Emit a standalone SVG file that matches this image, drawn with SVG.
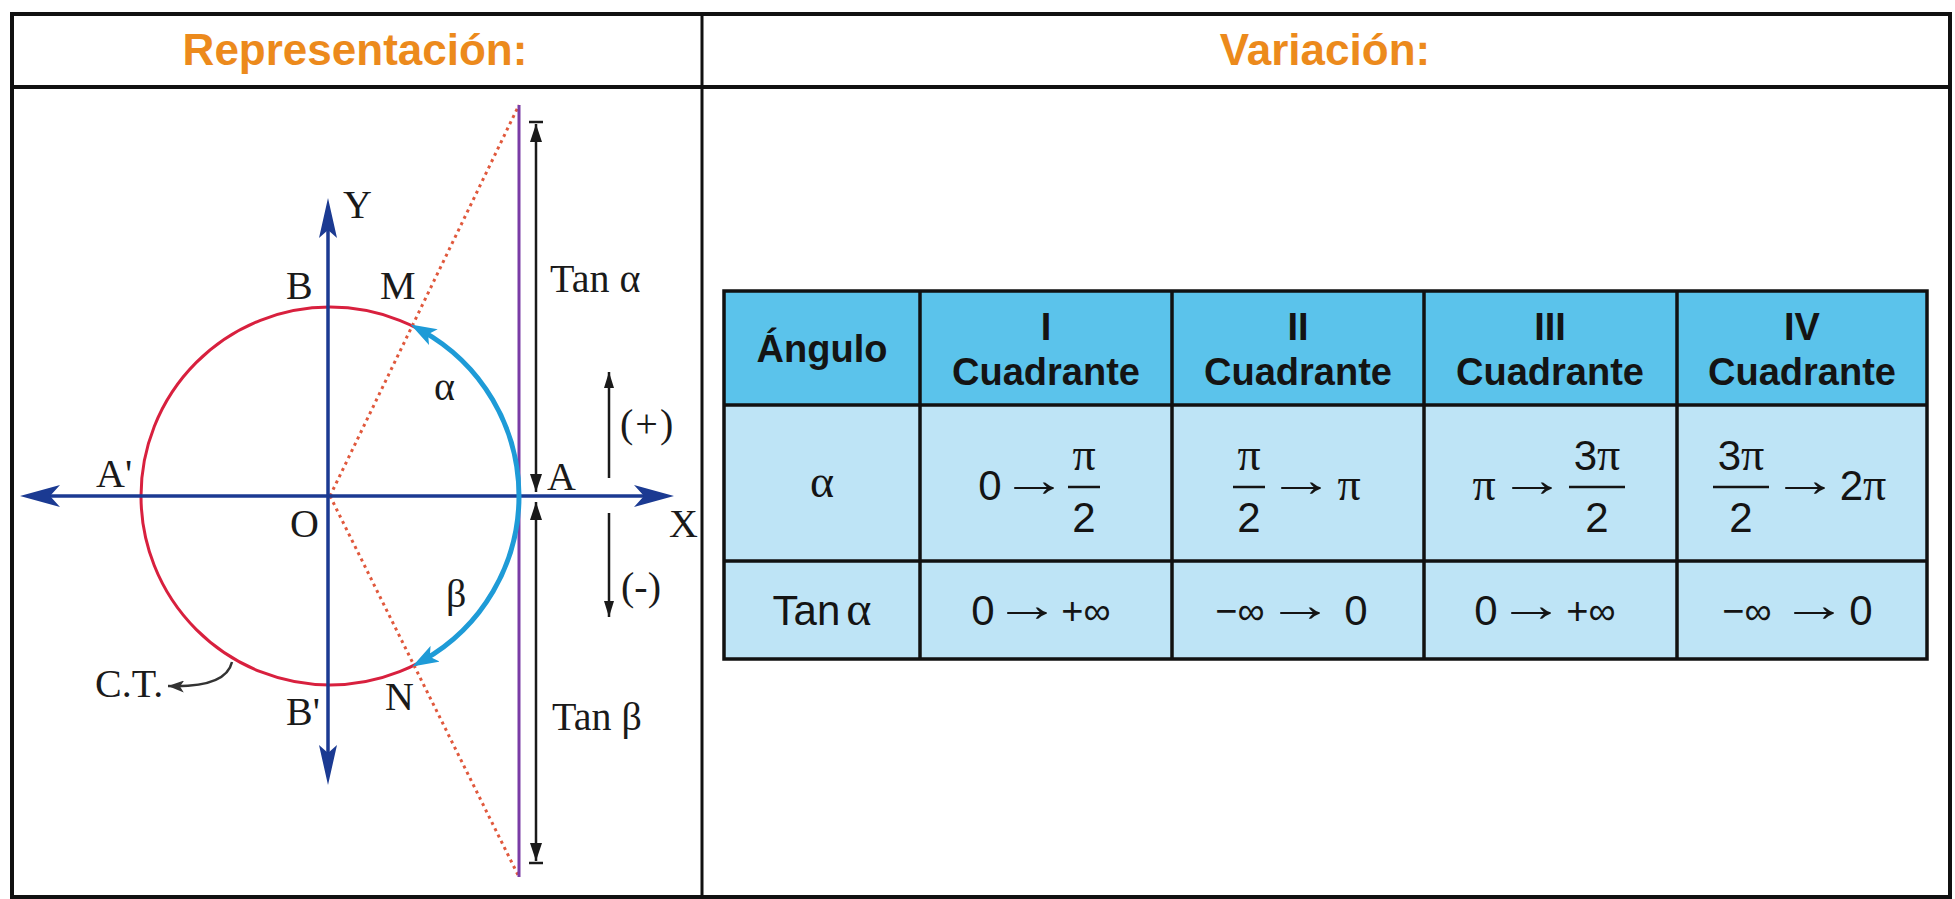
<svg xmlns="http://www.w3.org/2000/svg" width="1955" height="899" viewBox="0 0 1955 899">
<style>
.title{font-family:"Liberation Sans",Arial,sans-serif;font-weight:bold;font-size:44px;fill:#EC8A1C;text-anchor:middle}
.lbl{font-family:"Liberation Serif","Times New Roman",serif;font-size:40px;fill:#1a1a1a}
.hd{font-family:"Liberation Sans",Arial,sans-serif;font-weight:bold;font-size:38px;fill:#141414;text-anchor:middle}
.num{font-family:"Liberation Sans",Arial,sans-serif;font-size:42px;fill:#141414;text-anchor:middle}
.sym{font-family:"Liberation Serif","Times New Roman",serif;font-size:46px;fill:#141414;text-anchor:middle}
.arr{font-family:"Liberation Serif","DejaVu Serif",serif;font-size:48px;fill:#141414;text-anchor:middle}
.inf{font-family:"Liberation Sans","DejaVu Sans",sans-serif;font-size:38px;fill:#141414;text-anchor:middle}
.frac{stroke:#141414;stroke-width:2.5}
.grid{stroke:#111;stroke-width:3.5;fill:none}
.axis{stroke:#1b3a92;stroke-width:3.5;fill:none}
.axhead{fill:#1b3a92}
.blk{stroke:#1a1a1a;stroke-width:2.5;fill:none}
</style>
<defs>
<marker id="cyanHead" viewBox="0 0 26 18" refX="14" refY="9" markerWidth="26" markerHeight="18" orient="auto" markerUnits="userSpaceOnUse">
<path d="M0,0 L26,9 L0,18 L6,9 z" fill="#1e9bd7"/>
</marker>
<marker id="blkHead" viewBox="0 0 18 12" refX="18" refY="6" markerWidth="18" markerHeight="12" orient="auto-start-reverse" markerUnits="userSpaceOnUse">
<path d="M0,0 L18,6 L0,12 z" fill="#1a1a1a"/>
</marker>
<marker id="smallHead" viewBox="0 0 16 10" refX="16" refY="5" markerWidth="16" markerHeight="10" orient="auto" markerUnits="userSpaceOnUse">
<path d="M0,0 L16,5 L0,10 z" fill="#1a1a1a"/>
</marker>
<marker id="grayHead" viewBox="0 0 16 12" refX="16" refY="6" markerWidth="16" markerHeight="12" orient="auto" markerUnits="userSpaceOnUse">
<path d="M0,0 L16,6 L0,12 L4,6 z" fill="#333"/>
</marker>
</defs>

<rect x="0" y="0" width="1955" height="899" fill="#ffffff"/>

<g id="frame">
<rect x="12" y="14" width="1938" height="883" fill="none" stroke="#111" stroke-width="4"/>
<line x1="12" y1="87" x2="1950" y2="87" stroke="#111" stroke-width="4"/>
<line x1="702" y1="14" x2="702" y2="897" stroke="#111" stroke-width="3"/>
</g>

<g id="titles">
<text class="title" x="355" y="65">Representación:</text>
<text class="title" x="1325" y="65">Variación:</text>
</g>

<g id="diagram">
<circle id="circle-ct" cx="330" cy="496" r="189" fill="none" stroke="#d8203e" stroke-width="3"/>
<g id="dotted-lines" stroke="#e0583c" stroke-width="3" stroke-dasharray="3 4" fill="none">
<line x1="330" y1="496" x2="519" y2="105"/>
<line x1="330" y1="496" x2="519" y2="877"/>
</g>
<line id="tangent-line" x1="519" y1="105" x2="519" y2="877" stroke="#7a3ca6" stroke-width="3"/>
<g id="axes">
<line class="axis" x1="40" y1="496" x2="655" y2="496"/>
<polygon class="axhead" points="674,496 634,485 644,496 634,507"/>
<polygon class="axhead" points="20,496 60,485 50,496 60,507"/>
<line class="axis" x1="328" y1="220" x2="328" y2="765"/>
<polygon class="axhead" points="328,198 319,238 328,230 337,238"/>
<polygon class="axhead" points="328,785 319,745 328,753 337,745"/>
</g>
<g id="arcs" fill="none" stroke="#1e9bd7" stroke-width="5">
<path d="M519,496 A189,189 0 0 0 421.1,330.4" marker-end="url(#cyanHead)"/>
<path d="M519,496 A189,189 0 0 1 422.8,660.6" marker-end="url(#cyanHead)"/>
</g>
<g id="tan-arrows">
<line class="blk" x1="536" y1="124" x2="536" y2="492" marker-start="url(#blkHead)" marker-end="url(#blkHead)"/>
<line class="blk" x1="529" y1="122" x2="543" y2="122" stroke-width="3"/>
<line class="blk" x1="536" y1="502" x2="536" y2="861" marker-start="url(#blkHead)" marker-end="url(#blkHead)"/>
<line class="blk" x1="529" y1="863" x2="543" y2="863" stroke-width="3"/>
<line class="blk" x1="609" y1="478" x2="609" y2="372" stroke-width="2" marker-end="url(#smallHead)"/>
<line class="blk" x1="609" y1="513" x2="609" y2="617" stroke-width="2" marker-end="url(#smallHead)"/>
<path d="M232,662 Q226,688 168,686" fill="none" stroke="#333" stroke-width="2.5" marker-end="url(#grayHead)"/>
</g>
<g id="diagram-labels">
<text class="lbl" x="343" y="218">Y</text>
<text class="lbl" x="286" y="299">B</text>
<text class="lbl" x="380" y="299">M</text>
<text class="lbl" x="434" y="400">α</text>
<text class="lbl" x="96" y="487">A'</text>
<text class="lbl" x="547" y="490">A</text>
<text class="lbl" x="290" y="537">O</text>
<text class="lbl" x="669" y="537">X</text>
<text class="lbl" x="446" y="607">β</text>
<text class="lbl" x="95" y="697">C.T.</text>
<text class="lbl" x="385" y="710">N</text>
<text class="lbl" x="286" y="725">B'</text>
<text class="lbl" x="550" y="292" font-size="43">Tan α</text>
<text class="lbl" x="552" y="730" font-size="43">Tan β</text>
<text class="lbl" x="620" y="437" letter-spacing="2">(+)</text>
<text class="lbl" x="621" y="600">(-)</text>
</g>
</g>

<g id="table">
<rect x="724" y="291" width="1203" height="114" fill="#5bc3eb"/>
<rect x="724" y="405" width="1203" height="254" fill="#bee4f6"/>
<g class="grid">
<rect x="724" y="291" width="1203" height="368"/>
<line x1="724" y1="405" x2="1927" y2="405"/>
<line x1="724" y1="561" x2="1927" y2="561"/>
<line x1="920" y1="291" x2="920" y2="659"/>
<line x1="1172" y1="291" x2="1172" y2="659"/>
<line x1="1424" y1="291" x2="1424" y2="659"/>
<line x1="1677" y1="291" x2="1677" y2="659"/>
</g>
<g id="header-row">
<text class="hd" x="822" y="362">Ángulo</text>
<text class="hd" x="1046" y="340">I</text>
<text class="hd" x="1046" y="385">Cuadrante</text>
<text class="hd" x="1298" y="340">II</text>
<text class="hd" x="1298" y="385">Cuadrante</text>
<text class="hd" x="1550" y="340">III</text>
<text class="hd" x="1550" y="385">Cuadrante</text>
<text class="hd" x="1802" y="340">IV</text>
<text class="hd" x="1802" y="385">Cuadrante</text>
</g>
<g id="alpha-row">
<text class="sym" x="822" y="497" font-size="50">α</text>
<text class="num" x="990" y="500">0</text>
<text class="arr" transform="translate(1034,496) scale(1.4,1)">→</text>
<text class="sym" x="1084" y="470">π</text>
<line class="frac" x1="1068" y1="487" x2="1100" y2="487"/>
<text class="num" x="1084" y="532">2</text>
<text class="sym" x="1249" y="470">π</text>
<line class="frac" x1="1233" y1="487" x2="1265" y2="487"/>
<text class="num" x="1249" y="532">2</text>
<text class="arr" transform="translate(1301,496) scale(1.4,1)">→</text>
<text class="sym" x="1349" y="500">π</text>
<text class="sym" x="1484" y="500">π</text>
<text class="arr" transform="translate(1532,496) scale(1.4,1)">→</text>
<text class="num" x="1597" y="470">3<tspan font-family="Liberation Serif, serif" font-size="46">π</tspan></text>
<line class="frac" x1="1569" y1="487" x2="1625" y2="487"/>
<text class="num" x="1597" y="532">2</text>
<text class="num" x="1741" y="470">3<tspan font-family="Liberation Serif, serif" font-size="46">π</tspan></text>
<line class="frac" x1="1713" y1="487" x2="1769" y2="487"/>
<text class="num" x="1741" y="532">2</text>
<text class="arr" transform="translate(1805,496) scale(1.4,1)">→</text>
<text class="num" x="1863" y="500">2<tspan font-family="Liberation Serif, serif" font-size="46">π</tspan></text>
</g>
<g id="tan-row">
<text class="num" x="822" y="625" font-size="40">Tan<tspan font-family="Liberation Serif, serif" font-size="48" dx="6">α</tspan></text>
<text class="num" x="983" y="625" font-size="40">0</text>
<text class="arr" transform="translate(1027,621) scale(1.4,1)">→</text>
<text class="inf" x="1086" y="624">+∞</text>
<text class="inf" x="1240" y="624">−∞</text>
<text class="arr" transform="translate(1300,621) scale(1.4,1)">→</text>
<text class="num" x="1356" y="625" font-size="40">0</text>
<text class="num" x="1486" y="625" font-size="40">0</text>
<text class="arr" transform="translate(1531,621) scale(1.4,1)">→</text>
<text class="inf" x="1591" y="624">+∞</text>
<text class="inf" x="1747" y="624">−∞</text>
<text class="arr" transform="translate(1814,621) scale(1.4,1)">→</text>
<text class="num" x="1861" y="625" font-size="40">0</text>
</g>
</g>
</svg>
